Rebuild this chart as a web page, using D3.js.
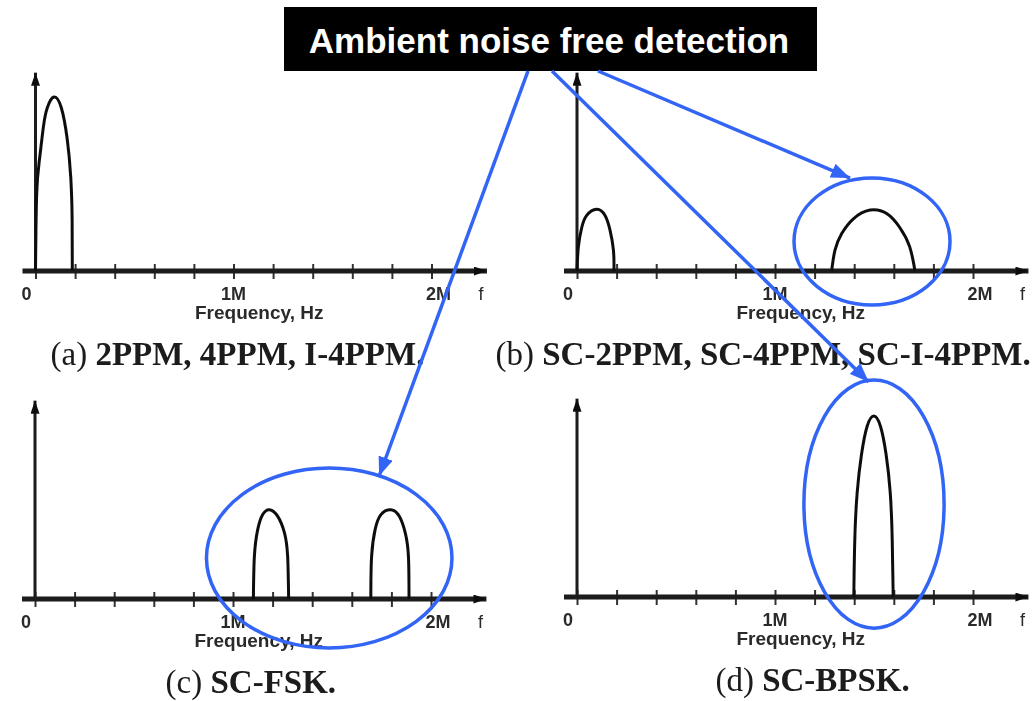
<!DOCTYPE html>
<html>
<head>
<meta charset="utf-8">
<style>
  body { margin: 0; background: #fff; }
  svg { display: block; }
</style>
</head>
<body>
<svg id="chart" width="1035" height="701"></svg>
<script src="https://d3js.org/d3.v7.min.js"></script>
<script>
// spectra: [frequency in MHz, relative amplitude]
var freqTicks = [0, 0.2, 0.4, 0.6, 0.8, 1.0, 1.2, 1.4, 1.6, 1.8, 2.0];
var tickLabels = ["0", "1M", "2M"];
var tickLabelFreqs = [0, 1, 2];

var lobeA = [[0,0],[0.006,0.445],[0.02,0.64],[0.04,0.83],[0.06,0.94],[0.093,1.0],[0.13,0.94],[0.16,0.76],[0.178,0.54],[0.185,0.3],[0.186,0]];
var lobeB1 = [[0,0],[0.007,0.14],[0.024,0.25],[0.049,0.32],[0.099,0.355],[0.141,0.32],[0.167,0.234],[0.184,0.12],[0.187,0]];
var lobeB2 = [[1.286,0],[1.303,0.12],[1.337,0.215],[1.396,0.30],[1.48,0.35],[1.564,0.33],[1.63,0.25],[1.68,0.14],[1.707,0]];
var lobeC1 = [[1.103,0],[1.108,0.245],[1.125,0.40],[1.15,0.485],[1.184,0.513],[1.226,0.475],[1.26,0.38],[1.276,0.245],[1.281,0]];
var lobeC2 = [[1.696,0],[1.70,0.245],[1.718,0.40],[1.747,0.485],[1.797,0.513],[1.84,0.475],[1.87,0.38],[1.886,0.245],[1.889,0]];
var lobeD = [[1.398,0],[1.403,0.33],[1.415,0.6],[1.437,0.82],[1.465,0.98],[1.499,1.04],[1.533,0.98],[1.561,0.82],[1.582,0.6],[1.592,0.33],[1.597,0]];

var captionTags = ["(a) ", "(b) ", "(c) ", "(d) "];
var captionTexts = ["2PPM, 4PPM, I-4PPM.", "SC-2PPM, SC-4PPM, SC-I-4PPM.", "SC-FSK.", "SC-BPSK."];
var axisName = "Frequency, Hz";
var title = "Ambient noise free detection";

var blue = "#3264f5";

var panels = [
  { x0: 35.5, y0: 271, lobes: [lobeA],          cap: 1.02, ring: null,                               tip: null },
  { x0: 577,  y0: 271, lobes: [lobeB1, lobeB2], cap: 0.94, ring: {f: 1.49, a: 0.17, rf: 0.394, ra: 0.365}, tip: [1.379, 0.534], from: 598 },
  { x0: 35,   y0: 599, lobes: [lobeC1, lobeC2], cap: 1.09, ring: {f: 1.486, a: 0.236, rf: 0.62, ra: 0.517}, tip: [1.738, 0.707], from: 528 },
  { x0: 577,  y0: 597, lobes: [lobeD],          cap: 1.19, ring: {f: 1.5, a: 0.534, rf: 0.354, ra: 0.713},  tip: [1.473, 1.236], from: 552 }
];

var svg = d3.select("#chart");
var defs = svg.append("defs");

defs.append("filter").attr("id", "soft")
  .append("feGaussianBlur").attr("stdDeviation", 0.7);

function marker(id, color, len, wid) {
  defs.append("marker").attr("id", id)
    .attr("markerUnits", "userSpaceOnUse")
    .attr("viewBox", "0 0 " + len + " " + wid)
    .attr("refX", len).attr("refY", wid / 2)
    .attr("markerWidth", len).attr("markerHeight", wid)
    .attr("orient", "auto")
    .append("path")
    .attr("d", "M0,0L" + len + "," + (wid / 2) + "L0," + wid + "Z")
    .attr("fill", color);
}
marker("axArrow", "#111", 13, 9);
marker("blueArrow", blue, 19, 15);

var x = d3.scaleLinear().domain([0, 2]).range([0, 396]);
var y = d3.scaleLinear().domain([0, 1]).range([0, -174]);

var line = d3.line()
  .x(function(d) { return x(d[0]); })
  .y(function(d) { return y(d[1]); })
  .curve(d3.curveNatural);

panels.forEach(function(p, i) {
  var g = svg.append("g")
    .attr("transform", "translate(" + p.x0 + "," + p.y0 + ")");
  var ink = g.append("g").attr("filter", "url(#soft)");

  // ticks
  var ax = ink.append("g")
    .call(d3.axisBottom(x).tickValues(freqTicks).tickFormat("").tickSize(8).tickSizeOuter(0));
  ax.select(".domain").remove();
  ax.selectAll(".tick line").attr("y1", -7).attr("stroke", "#333").attr("stroke-width", 2);

  // x axis with arrow
  ink.append("line")
    .attr("x1", -13).attr("x2", x(2.28))
    .attr("y1", 0).attr("y2", 0)
    .attr("stroke", "#1a1a1a").attr("stroke-width", 5)
    .attr("marker-end", "url(#axArrow)");

  // y axis with arrow
  ink.append("line")
    .attr("x1", 0).attr("x2", 0)
    .attr("y1", 2).attr("y2", y(1.14))
    .attr("stroke", "#1a1a1a").attr("stroke-width", 3)
    .attr("marker-end", "url(#axArrow)");

  // spectra
  ink.selectAll(".lobe").data(p.lobes).enter().append("path")
    .attr("class", "lobe")
    .attr("d", line)
    .attr("fill", "none")
    .attr("stroke", "#111")
    .attr("stroke-width", 3);

  // labels
  var lab = ink.append("g")
    .attr("font-family", "Liberation Sans, Arial, sans-serif")
    .attr("font-weight", "bold")
    .attr("font-size", 18)
    .attr("fill", "#2a2a2a");
  tickLabels.forEach(function(t, k) {
    var shift = k === 0 ? -9 : (k === 2 ? 7 : 0);
    lab.append("text")
      .attr("x", x(tickLabelFreqs[k]) + shift).attr("y", 29)
      .attr("text-anchor", "middle").text(t);
  });
  lab.append("text").attr("x", x(2.25)).attr("y", 29)
    .attr("text-anchor", "middle").attr("font-weight", "normal").text("f");
  lab.append("text").attr("x", x(1.13)).attr("y", 48)
    .attr("text-anchor", "middle").attr("font-size", 19).text(axisName);

  // caption
  var cap = ink.append("text")
    .attr("x", x(p.cap)).attr("y", 94)
    .attr("text-anchor", "middle")
    .attr("font-family", "Liberation Serif, Times New Roman, serif")
    .attr("font-size", 33)
    .attr("fill", "#1a1a1a");
  cap.append("tspan").text(captionTags[i]);
  cap.append("tspan").attr("font-weight", "bold").text(captionTexts[i]);

  // highlight ring
  if (p.ring) {
    g.append("ellipse")
      .attr("cx", x(p.ring.f)).attr("cy", y(p.ring.a))
      .attr("rx", x(p.ring.rf) - x(0)).attr("ry", y(0) - y(p.ring.ra))
      .attr("fill", "none").attr("stroke", blue).attr("stroke-width", 3.5);
  }
});

// title box
svg.append("rect")
  .attr("x", 284).attr("y", 7).attr("width", 533).attr("height", 64)
  .attr("fill", "#000");

// arrows from the title to each ring
panels.forEach(function(p) {
  if (!p.tip) return;
  svg.append("line")
    .attr("x1", p.from).attr("y1", 71)
    .attr("x2", p.x0 + x(p.tip[0])).attr("y2", p.y0 + y(p.tip[1]))
    .attr("stroke", blue).attr("stroke-width", 3.5)
    .attr("marker-end", "url(#blueArrow)");
});

svg.append("text")
  .attr("x", 549).attr("y", 53)
  .attr("text-anchor", "middle")
  .attr("font-family", "Liberation Sans, Arial, sans-serif")
  .attr("font-weight", "bold")
  .attr("font-size", 35)
  .attr("fill", "#fff")
  .text(title);
</script>
</body>
</html>
